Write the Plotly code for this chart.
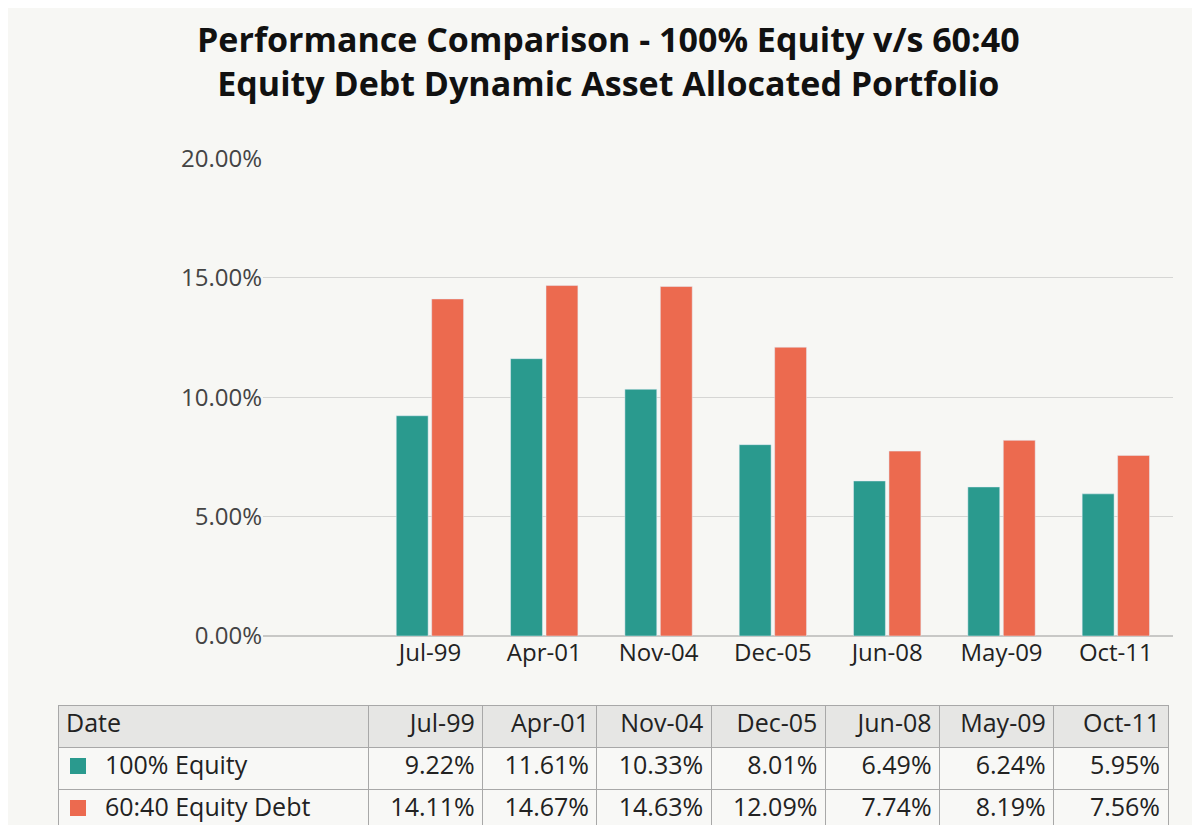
import plotly.graph_objects as go

dates = ["Jul-99", "Apr-01", "Nov-04", "Dec-05", "Jun-08", "May-09", "Oct-11"]
equity = [9.22, 11.61, 10.33, 8.01, 6.49, 6.24, 5.95]
balanced = [14.11, 14.67, 14.63, 12.09, 7.74, 8.19, 7.56]
series_names = ["100% Equity", "60:40 Equity Debt"]
y_ticks = [0, 5, 10, 15, 20]

TEAL = "#2a9a8e"
ORANGE = "#ec6a4f"
BG = "#f7f7f4"
FONT = "Open Sans"

W, H = 1200, 825
xs = list(range(len(dates)))

fig = go.Figure()
fig.add_trace(go.Bar(x=xs, y=[v / 100 for v in equity], name=series_names[0],
                     marker_color=TEAL))
fig.add_trace(go.Bar(x=xs, y=[v / 100 for v in balanced], name=series_names[1],
                     marker_color=ORANGE))

# data table under the chart
header = ["Date"] + dates
rows = [
    ["      " + series_names[0]] + [f"{v:.2f}%" for v in equity],
    ["      " + series_names[1]] + [f"{v:.2f}%" for v in balanced],
]
cols = [[rows[0][i], rows[1][i]] for i in range(len(header))]
fig.add_trace(go.Table(
    domain=dict(x=[50 / W, 1160 / W], y=[0, 1 - 697 / H]),
    columnwidth=[310] + [114] * len(dates),
    header=dict(values=header, height=42, align=["left"] + ["right"] * 7,
                fill_color="#e6e6e4", line_color="#a8a8a8",
                font=dict(family=FONT, size=25, color="#222")),
    cells=dict(values=cols, height=42, align=["left"] + ["right"] * 7,
               fill_color="#f8f8f6", line_color="#a8a8a8",
               font=dict(family=FONT, size=25, color="#222")),
))

# legend keys inside the table
for i, c in enumerate([TEAL, ORANGE]):
    yc = 1 - (758 + i * 42) / H
    fig.add_shape(type="rect", xref="paper", yref="paper",
                  x0=62 / W, x1=78 / W, y0=yc - 8 / H, y1=yc + 8 / H,
                  fillcolor=c, line_width=0)

fig.add_annotation(
    text="<b>Performance Comparison - 100% Equity v/s 60:40<br>Equity Debt Dynamic Asset Allocated Portfolio</b>",
    xref="paper", yref="paper", x=0.5, y=1 - 6 / H, xanchor="center", yanchor="top",
    showarrow=False, font=dict(family=FONT, size=34, color="#111"))

fig.update_layout(
    width=W, height=H,
    margin=dict(l=0, r=0, t=0, b=0, autoexpand=False),
    paper_bgcolor=BG, plot_bgcolor=BG,
    showlegend=False,
    barmode="group", bargap=0.38, bargroupgap=0.1,
    xaxis=dict(domain=[255 / W, 1165 / W], range=[-1.46, 6.5],
               tickvals=xs, ticktext=dates, showgrid=False, zeroline=False,
               showline=False, ticks="", automargin=False,
               tickfont=dict(family=FONT, size=24, color="#222")),
    yaxis=dict(domain=[1 - 628 / H, 1 - 150 / H], range=[0, 0.2001],
               tickvals=[t / 100 for t in y_ticks], tickformat=".2%",
               gridcolor="#d6d6d4", gridwidth=1, zeroline=True,
               zerolinecolor="#c8c8c6", ticks="", automargin=False,
               tickfont=dict(family=FONT, size=24, color="#444")),
)

fig.write_html("out.html")
